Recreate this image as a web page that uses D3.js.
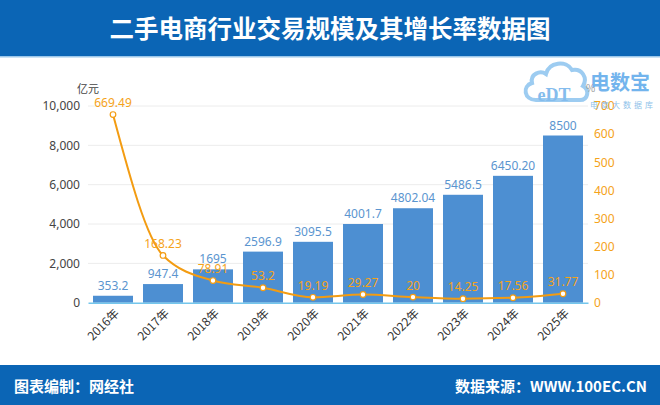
<!DOCTYPE html>
<html><head><meta charset="utf-8">
<script src="https://cdn.jsdelivr.net/npm/d3@7/dist/d3.min.js"></script>
<style>
html,body{margin:0;padding:0;background:#fff;}
svg{display:block;font-family:"Noto Sans CJK SC","Noto Sans",sans-serif;}
</style></head>
<body><svg id="c" width="660" height="405"></svg>
<script>
const categories = ["2016年","2017年","2018年","2019年","2020年","2021年","2022年","2023年","2024年","2025年"];
const scaleValues = [353.2, 947.4, 1695, 2596.9, 3095.5, 4001.7, 4802.04, 5486.5, 6450.2, 8500];
const scaleLabels = ["353.2","947.4","1695","2596.9","3095.5","4001.7","4802.04","5486.5","6450.20","8500"];
const growthValues = [669.49, 168.23, 78.91, 53.2, 19.19, 29.27, 20, 14.25, 17.56, 31.77];
const growthLabels = ["669.49","168.23","78.91","53.2","19.19","29.27","20","14.25","17.56","31.77"];
const leftTicks = [0, 2000, 4000, 6000, 8000, 10000];
const rightTicks = [0, 100, 200, 300, 400, 500, 600, 700];
const title = "二手电商行业交易规模及其增长率数据图";
const footerLeft = "图表编制：网经社";
const footerRight = "数据来源：WWW.100EC.CN";

const svg = d3.select("#c");
const blue = "#0b65b5";
const barColor = "#4d8fd2";
const orange = "#f39c12";

// header
svg.append("rect").attr("x",0).attr("y",0).attr("width",660).attr("height",56).attr("fill",blue);
svg.append("rect").attr("x",0).attr("y",56).attr("width",660).attr("height",1.5).attr("fill","#9cc7ea");
svg.append("text").attr("x",330).attr("y",38).attr("text-anchor","middle")
  .attr("fill","#fff").attr("font-size",24.5).attr("font-weight","bold").text(title);
// footer
svg.append("rect").attr("x",0).attr("y",365).attr("width",660).attr("height",40).attr("fill",blue);
svg.append("text").attr("x",14).attr("y",392).attr("fill","#fff").attr("font-size",15).attr("font-weight","bold").text(footerLeft);
svg.append("text").attr("x",647).attr("y",392).attr("text-anchor","end").attr("fill","#fff").attr("font-size",15).attr("font-weight","bold")
  .attr("font-family","'Noto Sans CJK SC','Liberation Sans',sans-serif").text(footerRight);

const x = d3.scaleBand().domain(categories).range([88,588]).paddingInner(0.2).paddingOuter(0.1);
const yL = d3.scaleLinear().domain([0,10000]).range([302.7,106]);
const yR = d3.scaleLinear().domain([0,700]).range([302.7,106]);

// grid
svg.append("g").selectAll("line").data(leftTicks.slice(1)).join("line")
  .attr("x1",88).attr("x2",588).attr("y1",d=>yL(d)).attr("y2",d=>yL(d))
  .attr("stroke","#ececec").attr("stroke-width",1);

// left axis
const axL = svg.append("g").attr("transform","translate(88,0)")
  .call(d3.axisLeft(yL).tickValues(leftTicks).tickFormat(d3.format(",")).tickSize(0).tickPadding(8));
axL.select(".domain").remove();
axL.selectAll("text").attr("fill","#444").attr("font-size",12).attr("font-family","'Noto Sans',sans-serif");
svg.append("text").attr("x",88).attr("y",93).attr("text-anchor","middle").attr("fill","#444").attr("font-size",11).text("亿元");

// right axis
const axR = svg.append("g").attr("transform","translate(588,0)")
  .call(d3.axisRight(yR).tickValues(rightTicks).tickSize(0).tickPadding(6));
axR.select(".domain").remove();
axR.selectAll("text").attr("fill","#f5a31a").attr("font-size",12).attr("font-family","'Noto Sans',sans-serif");

// bars
svg.append("g").selectAll("rect").data(scaleValues).join("rect")
  .attr("x",(d,i)=>x(categories[i])).attr("width",x.bandwidth())
  .attr("y",d=>yL(d)).attr("height",d=>yL(0)-yL(d)).attr("fill",barColor);
svg.append("g").selectAll("text").data(scaleValues).join("text")
  .attr("x",(d,i)=>x(categories[i])+x.bandwidth()/2).attr("y",d=>yL(d)-6)
  .attr("text-anchor","middle").attr("fill","#5b95cf").attr("font-size",12)
  .attr("font-family","'Noto Sans',sans-serif").text((d,i)=>scaleLabels[i]);

// x axis
const axX = svg.append("g").attr("transform","translate(0,302.7)")
  .call(d3.axisBottom(x).tickSize(0).tickFormat(""));
axX.select(".domain").attr("stroke","#74c6ec").attr("stroke-width",1.5);
svg.append("g").selectAll("text").data(categories).join("text")
  .attr("transform",d=>`translate(${x(d)+x.bandwidth()/2+4},${311}) rotate(-45)`)
  .attr("text-anchor","end").attr("dy","0.35em").attr("fill","#333").attr("font-size",12).text(d=>d);

// line
const line = d3.line().x((d,i)=>x(categories[i])+x.bandwidth()/2).y(d=>yR(d)).curve(d3.curveMonotoneX);
svg.append("path").datum(growthValues).attr("d",line).attr("fill","none").attr("stroke",orange).attr("stroke-width",2);
svg.append("g").selectAll("circle").data(growthValues).join("circle")
  .attr("cx",(d,i)=>x(categories[i])+x.bandwidth()/2).attr("cy",d=>yR(d)).attr("r",2.8)
  .attr("fill","#fff").attr("stroke",orange).attr("stroke-width",1.2);
svg.append("g").selectAll("text").data(growthValues).join("text")
  .attr("x",(d,i)=>x(categories[i])+x.bandwidth()/2).attr("y",d=>yR(d)-7.5)
  .attr("text-anchor","middle").attr("fill","#f5a31a").attr("font-size",12)
  .attr("font-family","'Noto Sans',sans-serif").text((d,i)=>growthLabels[i]);

// logo
const logo = svg.append("g").attr("opacity",0.85);
logo.append("path")
  .attr("d","M536,100 C524,100 522,86 532,83 C530,74 540,70 546,74 C549,62 566,60 572,70 C582,68 588,78 583,86 C590,90 588,100 580,100 Z")
  .attr("fill","none").attr("stroke","#8cc4ef").attr("stroke-width",4);
logo.append("text").attr("x",554).attr("y",101).attr("text-anchor","middle").attr("fill","#6fb1ea")
  .attr("font-size",18).attr("font-weight","bold").attr("font-family","'Liberation Serif',serif").text("eDT");
logo.append("text").attr("x",590).attr("y",90).attr("fill","#5aa8ea").attr("font-size",20).attr("font-weight","bold").text("电数宝");
logo.append("text").attr("x",590).attr("y",108).attr("fill","#7db7e6").attr("font-size",8).attr("letter-spacing",3).text("电商大数据库");
svg.append("text").attr("x",586).attr("y",92).attr("fill","#999").attr("font-size",10).text("%");
</script></body></html>
